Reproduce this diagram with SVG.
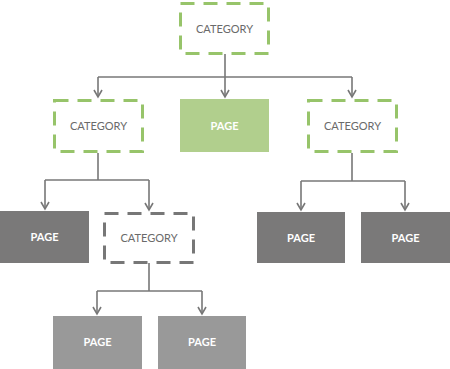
<svg xmlns="http://www.w3.org/2000/svg" width="450" height="369" viewBox="0 0 450 369">
<defs>
<style>
.cat{fill:#fff;stroke:#97c46a;stroke-width:3;stroke-dasharray:14 9}
.catg{fill:#fff;stroke:#777;stroke-width:3;stroke-dasharray:14 9}
.ct{font-family:Lato,"Liberation Sans",sans-serif;font-size:11px;fill:#6a6a6a;text-anchor:middle}
.pt{font-family:Lato,"Liberation Sans",sans-serif;font-size:11px;font-weight:bold;fill:#fff;text-anchor:middle}
.con{fill:none;stroke:#777;stroke-width:1.6}
</style>
<marker id="arr" markerUnits="userSpaceOnUse" markerWidth="12" markerHeight="12" viewBox="0 0 12 12" refX="10" refY="6" orient="auto">
<path d="M3,2 L10,6 L3,10" fill="none" stroke="#777" stroke-width="1.6"/>
</marker>
</defs>
<g id="connectors">
<path class="con" d="M225,54 V97" marker-end="url(#arr)"/>
<path class="con" d="M98,77 H352"/>
<path class="con" d="M98,77 V97" marker-end="url(#arr)"/>
<path class="con" d="M352,77 V97" marker-end="url(#arr)"/>
<path class="con" d="M98,153 V180"/>
<path class="con" d="M45,180 H149"/>
<path class="con" d="M45,180 V209" marker-end="url(#arr)"/>
<path class="con" d="M149,180 V210" marker-end="url(#arr)"/>
<path class="con" d="M352,153 V181"/>
<path class="con" d="M301,181 H405"/>
<path class="con" d="M301,181 V210" marker-end="url(#arr)"/>
<path class="con" d="M405,181 V210" marker-end="url(#arr)"/>
<path class="con" d="M149,263 V291"/>
<path class="con" d="M97,291 H202"/>
<path class="con" d="M97,291 V314" marker-end="url(#arr)"/>
<path class="con" d="M202,291 V314" marker-end="url(#arr)"/>
</g>
<g id="cat-top"><rect class="cat" x="180.5" y="3.5" width="88" height="50"/><text class="ct" x="224.5" y="33">CATEGORY</text></g>
<g id="cat-left"><rect class="cat" x="54.5" y="100.5" width="88" height="51"/><text class="ct" x="98.5" y="130">CATEGORY</text></g>
<g id="page-green"><rect x="180" y="99" width="89" height="53" fill="#b1cf8d"/><text class="pt" x="224.5" y="130">PAGE</text></g>
<g id="cat-right"><rect class="cat" x="308.5" y="100.5" width="88" height="51"/><text class="ct" x="352.5" y="130">CATEGORY</text></g>
<g id="page-dark1"><rect x="0" y="211" width="89" height="52" fill="#7a7979"/><text class="pt" x="44.5" y="241">PAGE</text></g>
<g id="cat-gray"><rect class="catg" x="104.5" y="213.5" width="89" height="49"/><text class="ct" x="149" y="242">CATEGORY</text></g>
<g id="page-dark2"><rect x="257" y="212" width="88" height="51" fill="#7a7979"/><text class="pt" x="301" y="242">PAGE</text></g>
<g id="page-dark3"><rect x="361" y="212" width="89" height="51" fill="#7a7979"/><text class="pt" x="405.5" y="242">PAGE</text></g>
<g id="page-light1"><rect x="53" y="316" width="89" height="53" fill="#999999"/><text class="pt" x="97.5" y="346">PAGE</text></g>
<g id="page-light2"><rect x="158" y="316" width="88" height="53" fill="#999999"/><text class="pt" x="202" y="346">PAGE</text></g>
</svg>
